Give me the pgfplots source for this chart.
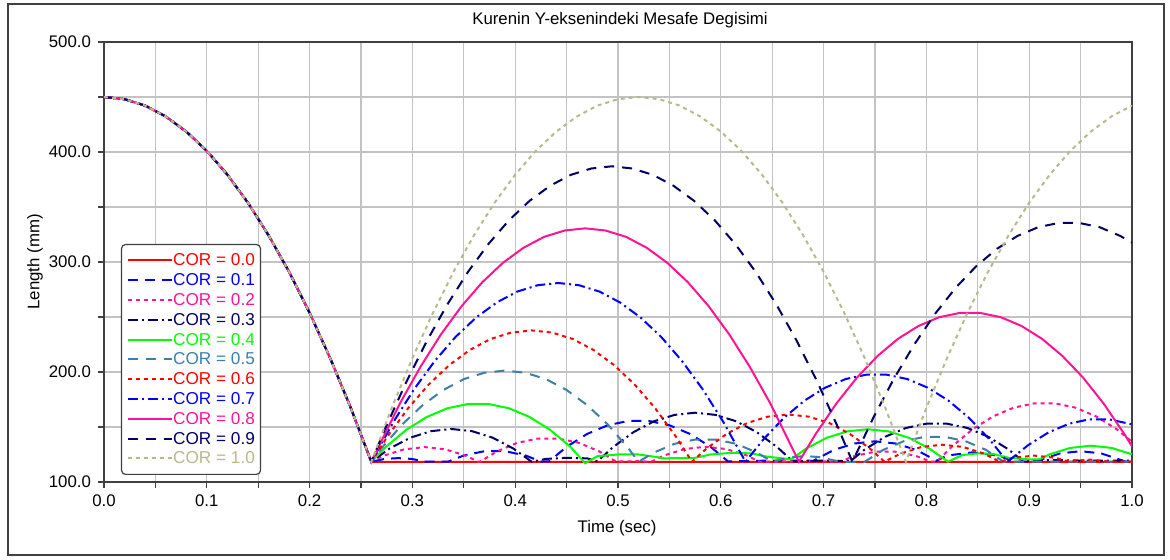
\documentclass[border=0pt]{standalone}
\usepackage{fontspec}
\setmainfont{Liberation Sans}
\usepackage{pgfplots}
\pgfplotsset{compat=1.18}
\definecolor{c0}{RGB}{255,0,0}
\definecolor{c1}{RGB}{0,0,255}
\definecolor{c2}{RGB}{255,20,150}
\definecolor{c3}{RGB}{0,0,102}
\definecolor{c4}{RGB}{0,255,0}
\definecolor{c5}{RGB}{60,128,170}
\definecolor{c6}{RGB}{255,0,0}
\definecolor{c7}{RGB}{0,0,255}
\definecolor{c8}{RGB}{255,20,150}
\definecolor{c9}{RGB}{0,0,102}
\definecolor{c10}{RGB}{185,185,140}
\definecolor{gridc}{RGB}{195,195,195}
\definecolor{axc}{RGB}{64,64,64}
\newcommand{\fs}{\fontsize{8.4}{10}\selectfont}
\newcommand{\fl}{\fontsize{8.6}{10}\selectfont}
\begin{document}
\begin{tikzpicture}[font=\fs]
\useasboundingbox (0,0) rectangle (585pt,280pt);
\fill[white] (0,0) rectangle (585pt,280pt);
\draw[line width=0.6pt, axc] (4pt,2.5pt) rectangle (582pt,278pt);
\node at (310pt,270pt) {Kurenin Y-eksenindeki Mesafe Degisimi};
\node[rotate=90] at (17.5pt,149pt) {Length (mm)};
\node at (308.5pt,16pt) {Time (sec)};
\begin{axis}[
  at={(52pt,39pt)}, anchor=south west,
  scale only axis, width=514pt, height=220pt,
  xmin=0, xmax=1, ymin=100, ymax=500,
  xtick={0,0.1,0.2,0.3,0.4,0.5,0.6,0.7,0.8,0.9,1},
  minor xtick={0.05,0.15,0.25,0.35,0.45,0.55,0.65,0.75,0.85,0.95},
  ytick={100,200,300,400,500},
  minor ytick={150,250,350,450},
  grid=both,
  major grid style={gridc, line width=0.6pt},
  minor grid style={gridc, line width=0.6pt},
  tick align=outside, tick pos=left,
  axis line style={axc, line width=1pt},
  tick style={axc, line width=0.6pt},
  major tick length=3pt, minor tick length=3pt,
  xticklabel={\pgfmathprintnumber[fixed,fixed zerofill,precision=1,assume math mode=true]{\tick}},
  yticklabel={\pgfmathprintnumber[fixed,fixed zerofill,precision=1,assume math mode=true]{\tick}},
  tick label style={font=\fs},
  no markers,
  legend cell align=left,
  legend style={at={(0.0165,0.541)}, anchor=north west, draw=axc, line width=0.6pt,
    rounded corners=2pt, fill=white, font=\fl, inner xsep=2.5pt, inner ysep=3pt,
    nodes={text height=6.5pt, text depth=1pt, inner ysep=1.2pt, inner xsep=0.3pt}},
  legend image code/.code={\draw[#1] (0pt,0pt) -- (22pt,0pt);},
]
\addplot[c0, line width=1pt] coordinates {(0,450) (0.02,448.0) (0.04,442.2) (0.06,432.3) (0.08,418.6) (0.10,401.0) (0.12,379.4) (0.14,353.9) (0.16,324.4) (0.18,291.1) (0.20,253.8) (0.22,212.6) (0.24,167.5) (0.26,118.4) (1.0,118.4)};
\addlegendentry{\textcolor{c0}{COR = 0.0}}
\addplot[c1, line width=1pt, dash pattern=on 5pt off 3.5pt] coordinates {(0,450) (0.02,448.0) (0.04,442.2) (0.06,432.3) (0.08,418.6) (0.10,401.0) (0.12,379.4) (0.14,353.9) (0.16,324.4) (0.18,291.1) (0.20,253.8) (0.22,212.6) (0.24,167.5) (0.26,118.4)
 (0.273,121.0) (0.286,121.7) (0.299,121.0) (0.312,118.6) (0.335,118.6) (0.35,124.1) (0.37,128.0) (0.39,128.0) (0.41,124.1) (0.425,118.6) (0.433,118.7) (0.45,132.0) (0.47,143.7) (0.49,151.6) (0.51,155.5) (0.53,155.5) (0.55,151.6) (0.57,143.7) (0.59,132.0) (0.607,118.7) (0.65,119.5) (0.69,119.3) (0.71,129.2) (0.73,135.0) (0.75,137) (0.77,135.0) (0.79,129.2) (0.81,119.3) (0.82,124) (0.845,127) (0.87,124) (0.886,118.6) (0.906,118.5) (0.93,126) (0.95,128) (0.97,126) (0.994,118.5) (1.0,118.5)};
\addlegendentry{\textcolor{c1}{COR = 0.1}}
\addplot[c2, line width=1pt, dash pattern=on 2pt off 2pt] coordinates {(0,450) (0.02,448.0) (0.04,442.2) (0.06,432.3) (0.08,418.6) (0.10,401.0) (0.12,379.4) (0.14,353.9) (0.16,324.4) (0.18,291.1) (0.20,253.8) (0.22,212.6) (0.24,167.5) (0.26,118.4)
 (0.272,123.9) (0.292,129.7) (0.312,131.7) (0.332,129.7) (0.352,123.9) (0.364,118.4) (0.366,118.6) (0.382,127.7) (0.402,135.6) (0.422,139.5) (0.442,139.5) (0.462,135.6) (0.482,127.7) (0.498,118.6) (0.52,119) (0.532,118.3) (0.545,124.2) (0.565,130.0) (0.585,132) (0.605,130.0) (0.625,124.2) (0.638,118.3) (0.68,119) (0.716,118.5) (0.73,123.6) (0.75,127.5) (0.77,127.5) (0.79,123.6) (0.804,118.5) (0.81,118.4) (0.825,132.3) (0.845,148.0) (0.865,159.7) (0.885,167.6) (0.905,171.5) (0.925,171.5) (0.945,167.6) (0.965,159.7) (0.985,148.0) (1.0,136.6)};
\addlegendentry{\textcolor{c2}{COR = 0.2}}
\addplot[c3, line width=1pt, dash pattern=on 5pt off 2pt on 1pt off 2pt] coordinates {(0,450) (0.02,448.0) (0.04,442.2) (0.06,432.3) (0.08,418.6) (0.10,401.0) (0.12,379.4) (0.14,353.9) (0.16,324.4) (0.18,291.1) (0.20,253.8) (0.22,212.6) (0.24,167.5) (0.26,118.4)
 (0.278,130.5) (0.298,140.3) (0.318,146.2) (0.338,148.2) (0.358,146.2) (0.378,140.3) (0.398,130.5) (0.416,118.4) (0.43,121) (0.45,122) (0.47,121.5) (0.48,118.7) (0.495,131.6) (0.515,145.3) (0.535,155.2) (0.555,161.0) (0.575,163) (0.595,161.0) (0.615,155.2) (0.635,145.3) (0.655,131.6) (0.67,118.7) (0.70,119.5) (0.726,118.9) (0.74,129.5) (0.76,141.2) (0.78,149.1) (0.80,153.0) (0.82,153.0) (0.84,149.1) (0.86,141.2) (0.88,129.5) (0.894,118.9) (0.92,120) (0.95,119.5) (1.0,119.5)};
\addlegendentry{\textcolor{c3}{COR = 0.3}}
\addplot[c4, line width=1pt] coordinates {(0,450) (0.02,448.0) (0.04,442.2) (0.06,432.3) (0.08,418.6) (0.10,401.0) (0.12,379.4) (0.14,353.9) (0.16,324.4) (0.18,291.1) (0.20,253.8) (0.22,212.6) (0.24,167.5) (0.26,118.4)
 (0.274,131.7) (0.294,147.4) (0.314,159.1) (0.334,167.0) (0.354,170.9) (0.374,170.9) (0.394,167.0) (0.414,159.1) (0.434,147.4) (0.454,131.7) (0.468,117) (0.48,123.5) (0.50,125) (0.52,125) (0.535,123) (0.545,121.5) (0.575,122) (0.59,125) (0.61,126.5) (0.63,126) (0.645,123) (0.66,121.5) (0.668,120.4) (0.683,130.3) (0.703,140.2) (0.723,146.0) (0.743,148) (0.763,146.0) (0.783,140.2) (0.803,130.3) (0.821,118.5) (0.835,124.5) (0.85,126) (0.865,125.5) (0.88,122) (0.90,120.5) (0.91,120.7) (0.92,125.2) (0.94,131.0) (0.96,133) (0.98,131.0) (1.0,125.2)};
\addlegendentry{\textcolor{c4}{COR = 0.4}}
\addplot[c5, line width=1pt, dash pattern=on 5pt off 4pt] coordinates {(0,450) (0.02,448.0) (0.04,442.2) (0.06,432.3) (0.08,418.6) (0.10,401.0) (0.12,379.4) (0.14,353.9) (0.16,324.4) (0.18,291.1) (0.20,253.8) (0.22,212.6) (0.24,167.5) (0.26,118.4)
 (0.27,130.7) (0.29,152.3) (0.31,169.9) (0.33,183.6) (0.35,193.5) (0.37,199.3) (0.39,201.3) (0.41,199.3) (0.43,193.5) (0.45,183.6) (0.47,169.9) (0.49,152.3) (0.51,130.7) (0.52,118.4) (0.535,126.8) (0.555,134.7) (0.575,138.6) (0.595,138.6) (0.615,134.7) (0.635,126.8) (0.65,118.4) (0.6675,122.5) (0.6825,123.6) (0.6975,122.5) (0.715,118.4) (0.74,118.4) (0.758,129.2) (0.778,137.1) (0.798,141.0) (0.818,141.0) (0.838,137.1) (0.858,129.2) (0.875,118.4) (1.0,118.6)};
\addlegendentry{\textcolor{c5}{COR = 0.5}}
\addplot[c6, line width=1pt, dash pattern=on 2pt off 2pt] coordinates {(0,450) (0.02,448.0) (0.04,442.2) (0.06,432.3) (0.08,418.6) (0.10,401.0) (0.12,379.4) (0.14,353.9) (0.16,324.4) (0.18,291.1) (0.20,253.8) (0.22,212.6) (0.24,167.5) (0.26,118.4)
 (0.276,141.7) (0.296,167.2) (0.316,188.8) (0.336,206.4) (0.356,220.1) (0.376,230.0) (0.396,235.8) (0.416,237.8) (0.436,235.8) (0.456,230.0) (0.476,220.1) (0.496,206.4) (0.516,188.8) (0.536,167.2) (0.556,141.7) (0.572,118.4) (0.5856,130.0) (0.6056,143.7) (0.6256,153.6) (0.6456,159.4) (0.6656,161.4) (0.6856,159.4) (0.7056,153.6) (0.7256,143.7) (0.7456,130.0) (0.7592,118.4) (0.7754,126.0) (0.7954,131.9) (0.8154,133.9) (0.8354,131.9) (0.8554,126.0) (0.8715,118.4) (0.885,122.0) (0.905,124.0) (0.925,122.0) (0.939,118.4) (0.959,120.4) (0.979,118.4) (1.0,118.6)};
\addlegendentry{\textcolor{c6}{COR = 0.6}}
\addplot[c7, line width=1pt, dash pattern=on 5pt off 2pt on 1pt off 2pt] coordinates {(0,450) (0.02,448.0) (0.04,442.2) (0.06,432.3) (0.08,418.6) (0.10,401.0) (0.12,379.4) (0.14,353.9) (0.16,324.4) (0.18,291.1) (0.20,253.8) (0.22,212.6) (0.24,167.5) (0.26,118.4)
 (0.282,155.3) (0.302,184.8) (0.322,210.3) (0.342,231.9) (0.362,249.5) (0.382,263.2) (0.402,273.1) (0.422,278.9) (0.442,280.9) (0.462,278.9) (0.482,273.1) (0.502,263.2) (0.522,249.5) (0.542,231.9) (0.562,210.3) (0.582,184.8) (0.602,155.3) (0.624,118.4) (0.6414,138.7) (0.6614,158.3) (0.6814,174.0) (0.7014,185.7) (0.7214,193.6) (0.7414,197.5) (0.7614,197.5) (0.7814,193.6) (0.8014,185.7) (0.8214,174.0) (0.8414,158.3) (0.8614,138.7) (0.8788,118.4) (0.8988,133.4) (0.9188,145.1) (0.9388,153.0) (0.958,156.9) (0.978,156.9) (1.0,152.4)};
\addlegendentry{\textcolor{c7}{COR = 0.7}}
\addplot[c8, line width=1pt] coordinates {(0,450) (0.02,448.0) (0.04,442.2) (0.06,432.3) (0.08,418.6) (0.10,401.0) (0.12,379.4) (0.14,353.9) (0.16,324.4) (0.18,291.1) (0.20,253.8) (0.22,212.6) (0.24,167.5) (0.26,118.4)
 (0.288,171.7) (0.308,205.0) (0.328,234.5) (0.348,260.0) (0.368,281.6) (0.388,299.2) (0.408,312.9) (0.428,322.8) (0.448,328.6) (0.468,330.6) (0.488,328.6) (0.508,322.8) (0.528,312.9) (0.548,299.2) (0.568,281.6) (0.588,260.0) (0.608,234.5) (0.628,205.0) (0.648,171.7) (0.676,118.4) (0.6924,143.8) (0.7124,171.3) (0.7324,194.9) (0.7524,214.5) (0.7724,230.2) (0.7924,241.9) (0.8124,249.8) (0.8324,253.7) (0.8524,253.7) (0.8724,249.8) (0.8924,241.9) (0.9124,230.2) (0.9324,214.5) (0.9524,194.9) (0.9724,171.3) (0.9924,143.8) (1.0,132.4)};
\addlegendentry{\textcolor{c8}{COR = 0.8}}
\addplot[c9, line width=1pt, dash pattern=on 5pt off 4pt] coordinates {(0,450) (0.02,448.0) (0.04,442.2) (0.06,432.3) (0.08,418.6) (0.10,401.0) (0.12,379.4) (0.14,353.9) (0.16,324.4) (0.18,291.1) (0.20,253.8) (0.22,212.6) (0.24,167.5) (0.26,118.4)
 (0.274,149.6) (0.294,190.8) (0.314,228.1) (0.334,261.4) (0.354,290.9) (0.374,316.4) (0.394,338.0) (0.414,355.6) (0.434,369.3) (0.454,379.2) (0.474,385.0) (0.494,387.0) (0.514,385.0) (0.534,379.2) (0.554,369.3) (0.574,355.6) (0.594,338.0) (0.614,316.4) (0.634,290.9) (0.654,261.4) (0.674,228.1) (0.694,190.8) (0.714,149.6) (0.728,118.4) (0.7486,158.9) (0.7686,194.3) (0.7886,225.6) (0.8086,253.1) (0.8286,276.7) (0.8486,296.3) (0.8686,312.0) (0.8886,323.7) (0.9086,331.6) (0.9286,335.5) (0.9486,335.5) (0.9686,331.6) (0.9886,323.7) (1.0,317.5)};
\addlegendentry{\textcolor{c9}{COR = 0.9}}
\addplot[c10, line width=1pt, dash pattern=on 2pt off 2pt] coordinates {(0,450) (0.02,448.0) (0.04,442.2) (0.06,432.3) (0.08,418.6) (0.10,401.0) (0.12,379.4) (0.14,353.9) (0.16,324.4) (0.18,291.1) (0.20,253.8) (0.22,212.6) (0.24,167.5) (0.26,118.4)
 (0.28,167.5) (0.30,212.6) (0.32,253.8) (0.34,291.1) (0.36,324.4) (0.38,353.9) (0.40,379.4) (0.42,401.0) (0.44,418.6) (0.46,432.3) (0.48,442.2) (0.50,448.0) (0.52,450.0) (0.54,448.0) (0.56,442.2) (0.58,432.3) (0.60,418.6) (0.62,401.0) (0.64,379.4) (0.66,353.9) (0.68,324.4) (0.70,291.1) (0.72,253.8) (0.74,212.6) (0.76,167.5) (0.78,118.4) (0.80,167.5) (0.82,212.6) (0.84,253.8) (0.86,291.1) (0.88,324.4) (0.90,353.9) (0.92,379.4) (0.94,401.0) (0.96,418.6) (0.98,432.3) (1.00,442.2)};
\addlegendentry{\textcolor{c10}{COR = 1.0}}
\end{axis}
\end{tikzpicture}
\end{document}
